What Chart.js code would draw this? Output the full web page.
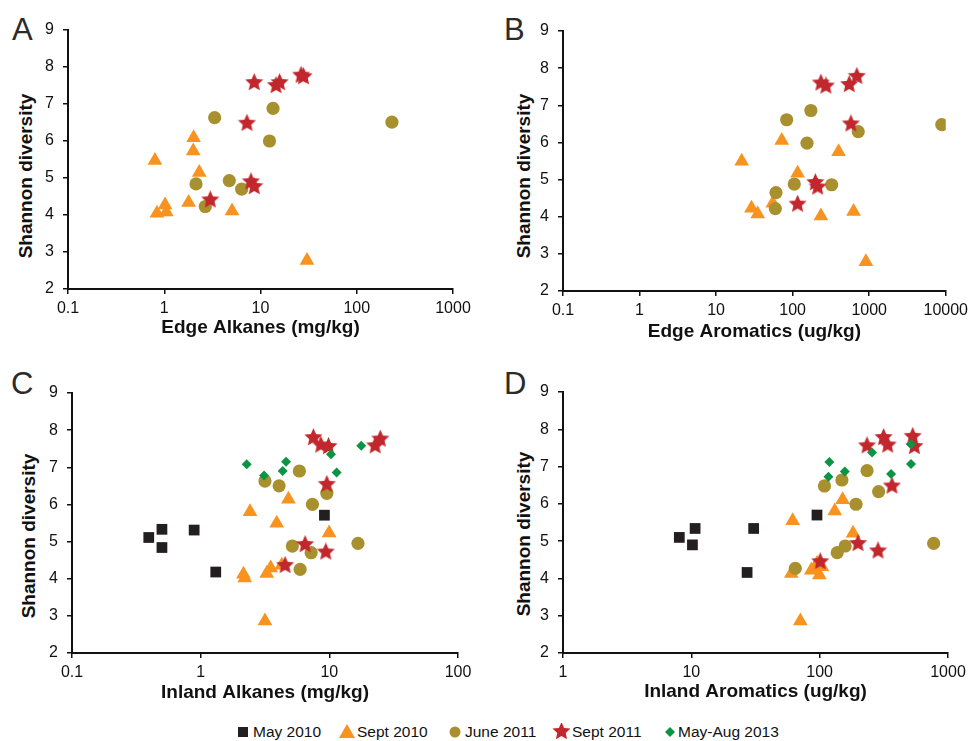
<!DOCTYPE html>
<html>
<head>
<meta charset="utf-8">
<script src="https://cdn.jsdelivr.net/npm/chart.js@4.4.0/dist/chart.umd.min.js"></script>
<style>
  body { margin: 0; background: #fff; width: 973px; height: 741px; position: relative; overflow: hidden;
         font-family: "Liberation Sans", Arial, sans-serif; color: #111; }
  canvas.panel { position: absolute; }
  .letter { position: absolute; font-size: 31px; line-height: 1; color: #2b2b2b; }
  .ytitle { position: absolute; font-weight: bold; font-size: 19px; white-space: nowrap; line-height: 1;
            transform: translate(-50%, -50%) rotate(-90deg); }
  .leg { position: absolute; top: 723px; font-size: 15.5px; line-height: 18px; white-space: nowrap; }
  .leg canvas { position: absolute; top: 0; }
</style>
</head>
<body>
<div class="letter" style="left:12px;top:14px">A</div>
<div class="letter" style="left:504px;top:14px">B</div>
<div class="letter" style="left:11px;top:368px">C</div>
<div class="letter" style="left:504px;top:368px">D</div>

<div class="ytitle" style="left:25px;top:176px">Shannon diversity</div>
<div class="ytitle" style="left:523px;top:176px">Shannon diversity</div>
<div class="ytitle" style="left:28px;top:536px">Shannon diversity</div>
<div class="ytitle" style="left:523px;top:534px">Shannon diversity</div>

<canvas id="chartA" class="panel" width="480" height="343" style="left:0;top:0"></canvas>
<canvas id="chartB" class="panel" width="493" height="347" style="left:480px;top:0"></canvas>
<canvas id="chartC" class="panel" width="480" height="368" style="left:0;top:340px"></canvas>
<canvas id="chartD" class="panel" width="493" height="367" style="left:480px;top:340px"></canvas>

<div id="legend"></div>

<script>
// series labels and shannon axis
const seriesNames = ['May 2010', 'Sept 2010', 'June 2011', 'Sept 2011', 'May-Aug 2013'];
const yTicks = [2, 3, 4, 5, 6, 7, 8, 9];

// A - Edge Alkanes (mg/kg)
const edgeAlkTicks = [0.1, 1, 10, 100, 1000];
const edgeAlkSept2010 = [[0.8,5.47],[2.02,6.09],[2.0,5.73],[2.31,5.15],[1.79,4.34],[0.84,4.05],[1.02,4.27],[1.05,4.08],[5.06,4.11],[30.4,2.77]];
const edgeAlkJune2011 = [[3.34,6.63],[13.5,6.88],[12.4,6.0],[232,6.51],[2.14,4.84],[4.74,4.93],[6.37,4.70],[2.67,4.23]];
const edgeAlkSept2011 = [[8.6,7.58],[14.5,7.5],[15.8,7.58],[26.4,7.78],[28,7.74],[7.24,6.48],[7.96,4.9],[8.6,4.77],[3.01,4.41]];

// B - Edge Aromatics (ug/kg)
const edgeAroTicks = [0.1, 1, 10, 100, 1000, 10000];
const edgeAroSept2010 = [[21.6,5.49],[72,6.05],[398,5.75],[116,5.17],[55,4.36],[29,4.23],[35,4.07],[234,4.02],[625,4.14],[905,2.79]];
const edgeAroJune2011 = [[83.5,6.61],[173,6.86],[154,5.98],[719,6.29],[8870,6.48],[60.6,4.65],[59.4,4.22],[105,4.88],[323,4.86]];
const edgeAroSept2011 = [[234,7.6],[272,7.52],[548,7.56],[690,7.78],[577,6.5],[198,4.92],[212,4.8],[116,4.34]];

// C - Inland Alkanes (mg/kg)
const inAlkTicks = [0.1, 1, 10, 100];
const inAlkMay2010 = [[0.395,5.11],[0.5,5.33],[0.5,4.84],[0.89,5.31],[1.31,4.18],[9.16,5.71]];
const inAlkSept2010 = [[2.42,5.8],[4.81,6.14],[3.9,5.49],[9.96,5.23],[2.2,4.02],[2.15,4.12],[3.5,4.29],[3.26,4.14],[4.27,4.36],[3.16,2.86]];
const inAlkJune2011 = [[3.16,6.63],[4.07,6.5],[5.85,6.9],[7.39,6.0],[9.56,6.3],[5.16,4.88],[7.22,4.7],[5.93,4.25],[16.7,4.95]];
const inAlkSept2011 = [[7.52,7.8],[8.58,7.6],[9.85,7.56],[22.7,7.58],[24.9,7.76],[9.56,6.54],[6.48,4.92],[9.38,4.72],[4.53,4.36]];
const inAlkMayAug2013 = [[2.28,7.08],[3.11,6.78],[4.34,6.9],[4.61,7.15],[10.3,7.35],[11.4,6.86],[17.7,7.58]];

// D - Inland Aromatics (ug/kg)
const inAroTicks = [1, 10, 100, 1000];
const inAroMay2010 = [[8.06,5.1],[10.7,5.34],[10.2,4.9],[30.6,5.34],[27.2,4.16],[95.3,5.7]];
const inAroSept2010 = [[61.6,5.55],[131,5.81],[151,6.11],[182,5.21],[60.1,4.13],[86,4.22],[95.3,4.4],[99.4,4.09],[104,4.31],[70.7,2.86]];
const inAroJune2011 = [[64.6,4.27],[109,6.48],[149,6.64],[234,6.89],[288,6.33],[192,5.99],[137,4.69],[158,4.87],[773,4.94]];
const inAroSept2011 = [[234,7.56],[315,7.78],[339,7.58],[531,7.81],[547,7.54],[366,6.48],[199,4.94],[285,4.74],[101,4.45]];
const inAroMayAug2013 = [[119,7.12],[117,6.73],[157,6.87],[256,7.38],[360,6.8],[515,7.6],[515,7.07]];

const FONT = '"Liberation Sans", Arial, sans-serif';
const INK = '#111';

// marker shapes for the five sampling dates
function starImage(color, size) {
  const c = document.createElement('canvas');
  c.width = c.height = size;
  const g = c.getContext('2d');
  const R = size / 2, r = R * 0.47;
  g.beginPath();
  for (let i = 0; i < 10; i++) {
    const a = -Math.PI / 2 + i * Math.PI / 5;
    const rr = i % 2 ? r : R;
    g.lineTo(R + rr * Math.cos(a), R + rr * Math.sin(a));
  }
  g.closePath();
  g.fillStyle = color;
  g.fill();
  return c;
}

const markers = [
  { style: 'rect',     radius: 7.6, color: '#231f20' },
  { style: 'triangle', radius: 8.5, color: '#f7931e' },
  { style: 'circle',   radius: 6.6, color: '#a8902f' },
  { style: starImage('#c1272d', 19), radius: 9, color: '#c1272d' },
  { style: 'rectRot',  radius: 5,   color: '#0b9444' }
];

function dataset(idx, pts) {
  const m = markers[idx];
  return {
    label: seriesNames[idx],
    data: pts.map(p => ({ x: p[0], y: p[1] })),
    pointStyle: m.style,
    pointRadius: m.radius,
    pointHoverRadius: m.radius,
    backgroundColor: m.color,
    borderColor: m.color,
    borderWidth: 0,
    order: 5 - idx
  };
}

function makePanel(id, xTicks, xTitle, yAxisW, xAxisH, pad, datasets) {
  new Chart(document.getElementById(id), {
    type: 'scatter',
    data: { datasets: datasets },
    options: {
      responsive: false,
      animation: false,
      layout: { padding: pad },
      plugins: { legend: { display: false }, tooltip: { enabled: false } },
      scales: {
        x: {
          type: 'logarithmic',
          min: xTicks[0],
          max: xTicks[xTicks.length - 1],
          afterBuildTicks: s => { s.ticks = xTicks.map(v => ({ value: v })); },
          afterFit: s => { s.height = xAxisH; },
          ticks: { callback: v => String(v), autoSkip: false, maxRotation: 0, padding: 5,
                   color: INK, font: { family: FONT, size: 16 } },
          grid: { drawOnChartArea: false, drawTicks: true, tickLength: 5, color: INK, lineWidth: 1.5 },
          border: { display: true, color: INK, width: 2 },
          title: { display: true, text: xTitle, color: INK, padding: { top: 4, bottom: 4 },
                   font: { family: FONT, size: 19, weight: 'bold' } }
        },
        y: {
          type: 'linear',
          min: yTicks[0],
          max: yTicks[yTicks.length - 1],
          afterBuildTicks: s => { s.ticks = yTicks.map(v => ({ value: v })); },
          afterFit: s => { s.width = yAxisW; },
          ticks: { padding: 9, color: INK, font: { family: FONT, size: 16 } },
          grid: { drawOnChartArea: false, drawTicks: true, tickLength: 5, color: INK, lineWidth: 1.5 },
          border: { display: true, color: INK, width: 2 }
        }
      }
    }
  });
}

makePanel('chartA', edgeAlkTicks, 'Edge Alkanes (mg/kg)', 68, 54, { top: 30, right: 27, left: 0, bottom: 0 }, [
  dataset(1, edgeAlkSept2010), dataset(2, edgeAlkJune2011), dataset(3, edgeAlkSept2011)
]);
makePanel('chartB', edgeAroTicks, 'Edge Aromatics (ug/kg)', 83, 56, { top: 31, right: 26, left: 0, bottom: 0 }, [
  dataset(1, edgeAroSept2010), dataset(2, edgeAroJune2011), dataset(3, edgeAroSept2011)
]);
makePanel('chartC', inAlkTicks, 'Inland Alkanes (mg/kg)', 72, 55, { top: 53, right: 22, left: 0, bottom: 0 }, [
  dataset(0, inAlkMay2010), dataset(1, inAlkSept2010), dataset(2, inAlkJune2011),
  dataset(3, inAlkSept2011), dataset(4, inAlkMayAug2013)
]);
makePanel('chartD', inAroTicks, 'Inland Aromatics (ug/kg)', 83, 54, { top: 52, right: 25, left: 0, bottom: 0 }, [
  dataset(0, inAroMay2010), dataset(1, inAroSept2010), dataset(2, inAroJune2011),
  dataset(3, inAroSept2011), dataset(4, inAroMayAug2013)
]);

// shared legend under the panels
const legendX = [237, 341, 449, 556, 664];
const legend = document.getElementById('legend');
seriesNames.forEach((name, i) => {
  const m = markers[i];
  const item = document.createElement('div');
  item.className = 'leg';
  item.style.left = legendX[i] + 'px';
  const ic = document.createElement('canvas');
  ic.width = 20; ic.height = 18;
  const g = ic.getContext('2d');
  g.fillStyle = m.color;
  if (m.style === 'rect') g.fillRect(5, 4, 10, 10);
  else if (m.style === 'triangle') { g.beginPath(); g.moveTo(10, 1); g.lineTo(18, 15); g.lineTo(2, 15); g.fill(); }
  else if (m.style === 'circle') { g.beginPath(); g.arc(10, 9, 5.5, 0, Math.PI * 2); g.fill(); }
  else if (m.style === 'rectRot') { g.beginPath(); g.moveTo(10, 4); g.lineTo(15, 9); g.lineTo(10, 14); g.lineTo(5, 9); g.fill(); }
  else g.drawImage(m.style, 0, -1, 19, 19);
  ic.style.left = '-4px';
  item.appendChild(ic);
  const t = document.createElement('span');
  t.textContent = name;
  t.style.marginLeft = (i === 4 ? 14 : 16) + 'px';
  item.appendChild(t);
  legend.appendChild(item);
});
</script>
</body>
</html>
